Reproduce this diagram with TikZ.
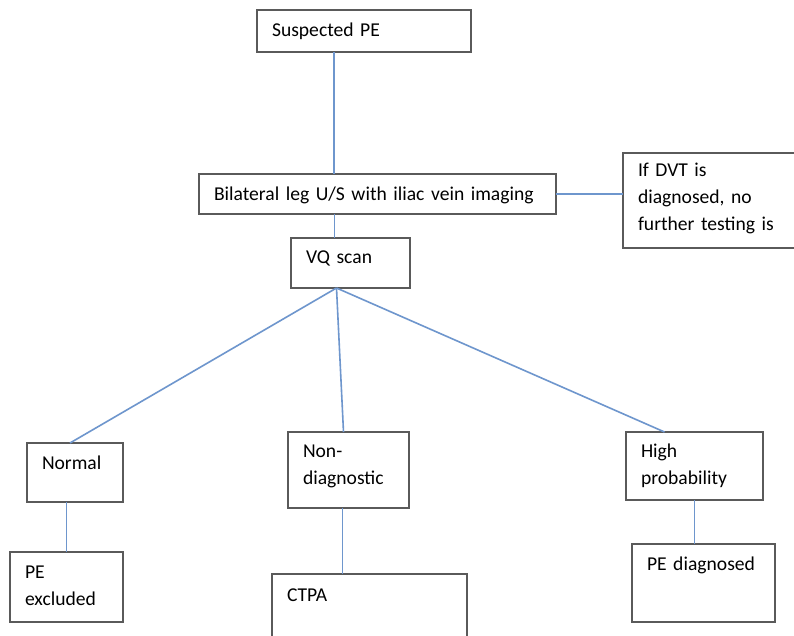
\documentclass[tikz,border=0pt]{standalone}
\usepackage{fontspec}
\setmainfont{Carlito}
\definecolor{linkblue}{RGB}{110,150,205}
\definecolor{boxgray}{RGB}{90,90,90}
\tikzset{
  box/.style={draw=boxgray, line width=1.3pt, anchor=north west, inner xsep=15pt, inner ysep=0pt,
    outer sep=0pt, align=left, font=\fontsize{19.6}{27}\selectfont},
  link/.style={draw=linkblue, line width=1.6pt}
}
\begin{document}
\begin{tikzpicture}[x=1pt,y=-1pt]
            \clip (0,0) rectangle (794,636);
            \fill[white] (0,0) rectangle (794,636);

            \node[box, text width=184pt, text height=27pt, text depth=15pt] (susppe) at (257,10) {Suspected PE};
            \node[box, text width=327pt, text height=27pt, text depth=13pt] (bilat) at (199,174) {Bilateral leg U/S with iliac vein imaging};
            \node[box, text width=150pt, text height=24pt, text depth=71pt] (dvtnote) at (623,153) {If DVT is\\diagnosed, no\\further testing is};
            \node[box, text width=89pt, text height=25pt, text depth=25pt] (vqscan) at (291,238) {VQ scan};

            \node[box, text width=66pt, text height=26pt, text depth=33pt] (normal) at (27,443) {Normal};
            \node[box, text width=91pt, text height=25pt, text depth=51pt] (nondiag) at (288,432) {Non-\\diagnostic};
            \node[box, text width=107pt, text height=25pt, text depth=43pt] (highprob) at (626,432) {High\\probability};

            \node[box, text width=83pt, text height=26pt, text depth=44pt] (peexcl) at (10,552) {PE\\excluded};
            \node[box, text width=165pt, text height=27pt, text depth=60pt] (ctpa) at (272,574) {CTPA};
            \node[box, text width=113pt, text height=26pt, text depth=52pt] (pediag) at (632,544) {PE diagnosed};

            \coordinate (vqfoot) at ([xshift=-14pt]vqscan.south);

            \draw[link] ([xshift=-30pt]susppe.south) to ([xshift=-30pt]susppe.south |- bilat.north);
            \draw[link] ([xshift=-16pt]vqscan.north |- bilat.south) to ([xshift=-16pt]vqscan.north);
            \draw[link] (bilat.east) to (bilat.east -| dvtnote.west);
            \draw[link] (vqfoot) to ([xshift=-5pt]normal.north);
            \draw[link] (vqfoot) to ([xshift=-5pt]nondiag.north);
            \draw[link] (vqfoot) to ([xshift=-30pt]highprob.north);
            \draw[link] (normal.south -| peexcl.north) to (peexcl.north);
            \draw[link] ([xshift=-6pt]nondiag.south) to ([xshift=-6pt]nondiag.south |- ctpa.north);
            \draw[link] (highprob.south) to (highprob.south |- pediag.north);
        \end{tikzpicture}
\end{document}
